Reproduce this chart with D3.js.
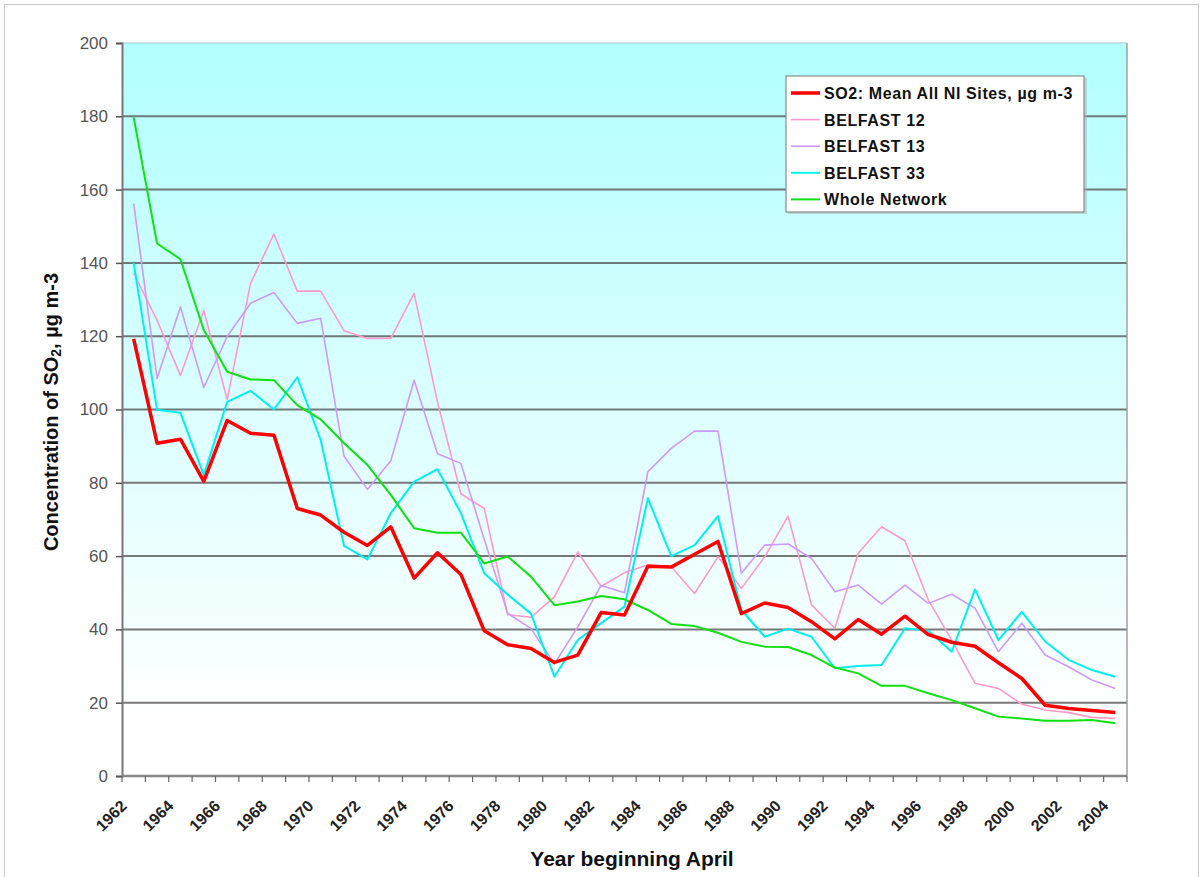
<!DOCTYPE html>
<html><head><meta charset="utf-8">
<script src="https://cdn.jsdelivr.net/npm/d3@7"></script>
<style>body{margin:0;background:#fff}svg{display:block}</style>
</head><body>
<svg id="c" width="1203" height="877"></svg>
<script>
const years = d3.range(1962, 2005);
const seriesNames = ["SO2: Mean All NI Sites, µg m-3","BELFAST 12","BELFAST 13","BELFAST 33","Whole Network"];
const meanAll = [119.3,90.8,91.9,80.4,97,93.5,93,73,71.2,66.5,62.9,68,54,60.9,55,
 39.6,35.8,34.8,31,33,44.6,43.9,57.2,57,60.5,64,44.3,47.2,46,42.1,
 37.4,42.7,38.7,43.6,38.6,36.5,35.4,30.9,26.6,19.3,18.4,17.9,17.3];
const belfast12 = [137.2,124.4,109.3,127,102.7,134.4,147.9,132.3,132.3,121.5,119.4,119.4,131.7,102,77,
 73,44,43.3,48.9,61.1,51.7,55.5,57.6,57.1,49.8,59.8,51.2,59.8,70.9,46.7,
 40.3,60.8,68,64.2,48,37.1,25.3,23.9,19.6,18,17.3,16,15.7];
const belfast13 = [156.2,108.4,128,106,119.9,129,131.9,123.5,124.9,87.3,78.2,86,108,87.9,85.3,
 64.5,44.4,40.2,30.6,40.7,52,50,83,89.4,94.1,94.1,55.3,63,63.3,59.4,
 50.3,52.1,46.9,52.1,47.1,49.6,45.8,33.9,41.7,33,29.8,26.2,23.9];
const belfast33 = [140,99.9,99.1,82.1,102.1,105.1,100,108.8,91.7,62.8,59.1,71.7,80.3,83.7,71.7,
 55.3,49.5,44.3,27.1,37.1,41.7,46.2,75.8,60,63,70.9,45.3,38,40.2,38,
 29.4,30,30.3,40.3,39.6,33.9,50.9,37.1,44.8,36.7,31.7,28.9,27.1];
const wholeNetwork = [179.7,145.3,141,121.7,110.3,108.2,108,101.2,97.3,90.8,84.9,76.7,67.6,66.4,66.4,
 58,59.9,54.4,46.6,47.6,49.1,48.2,45.3,41.5,40.9,39.1,36.6,35.3,35.2,33,
 29.6,28,24.6,24.6,22.6,20.7,18.5,16.2,15.7,15.1,15.1,15.3,14.4];
const yTicks = [0,20,40,60,80,100,120,140,160,180,200];
const xTickLabels = years.filter(y => y % 2 === 0);

const series = [
  {name: seriesNames[0], values: meanAll, color: "#ff0000", w: 3.5},
  {name: seriesNames[1], values: belfast12, color: "#ff99cc", w: 1.6},
  {name: seriesNames[2], values: belfast13, color: "#cc99ff", w: 1.6},
  {name: seriesNames[3], values: belfast33, color: "#00f0f0", w: 2},
  {name: seriesNames[4], values: wholeNetwork, color: "#11e011", w: 2}
];

const svg = d3.select("#c");
const L = 122, R = 1127, T = 43, B = 776;
const x = d3.scaleBand().domain(years).range([L, R]).padding(0);
const y = d3.scaleLinear().domain([0, 200]).range([B, T]);
const font = "'Liberation Sans', Arial, sans-serif";

// outer frame
svg.append("rect").attr("x", 4.5).attr("y", 4.5).attr("width", 1194).attr("height", 890)
  .attr("fill", "none").attr("stroke", "#c8c8c8").attr("stroke-width", 1);

const defs = svg.append("defs");
const grad = defs.append("linearGradient").attr("id", "bg").attr("x1", 0).attr("y1", 0).attr("x2", 0).attr("y2", 1);
grad.append("stop").attr("offset", "0%").attr("stop-color", "#b2ffff");
grad.append("stop").attr("offset", "92%").attr("stop-color", "#ffffff");
grad.append("stop").attr("offset", "100%").attr("stop-color", "#ffffff");

svg.append("rect").attr("x", L).attr("y", T).attr("width", R - L).attr("height", B - T).attr("fill", "url(#bg)");

// gridlines
svg.append("g").selectAll("line").data(yTicks.filter(v => v > 0 && v < 200)).join("line")
  .attr("x1", L).attr("x2", R).attr("y1", d => y(d)).attr("y2", d => y(d))
  .attr("stroke", "#606060").attr("stroke-opacity", 0.85).attr("stroke-width", 2);

// plot border right/top
svg.append("line").attr("x1", R).attr("x2", R).attr("y1", T).attr("y2", B).attr("stroke", "#a0a0a0").attr("stroke-width", 1.5);
svg.append("line").attr("x1", L).attr("x2", R).attr("y1", T).attr("y2", T).attr("stroke", "#a0c8c8").attr("stroke-width", 1);

// y axis
const yAxis = d3.axisLeft(y).tickValues(yTicks).tickSize(6).tickPadding(8);
const gy = svg.append("g").attr("transform", `translate(${L},0)`).call(yAxis);
gy.select(".domain").attr("stroke", "#777").attr("stroke-width", 2);
gy.selectAll(".tick line").attr("stroke", "#555").attr("stroke-width", 1.5);
gy.selectAll(".tick text").attr("font-family", font).attr("font-size", 17).attr("fill", "#555");

// x axis
svg.append("line").attr("x1", L).attr("x2", R).attr("y1", B).attr("y2", B).attr("stroke", "#888").attr("stroke-width", 2.5);
const bounds = years.map(v => x(v)).concat([R]);
svg.append("g").selectAll("line").data(bounds).join("line")
  .attr("x1", d => d).attr("x2", d => d).attr("y1", B).attr("y2", B + 6)
  .attr("stroke", "#666").attr("stroke-width", 1.2);
svg.append("g").selectAll("text").data(xTickLabels).join("text")
  .attr("transform", d => `translate(${x(d) + x.bandwidth() / 2 - 6},${B + 31}) rotate(-45)`)
  .attr("text-anchor", "end").attr("font-family", font).attr("font-weight", "bold")
  .attr("font-size", 16).attr("fill", "#222").text(d => d);

// lines
const line = d3.line().x((d, i) => x(years[i]) + x.bandwidth() / 2).y(d => y(d));
const order = [1, 2, 3, 4, 0];
svg.append("g").selectAll("path").data(order.map(i => series[i])).join("path")
  .attr("d", d => line(d.values)).attr("fill", "none")
  .attr("stroke", d => d.color).attr("stroke-width", d => d.w).attr("stroke-linejoin", "round");

// axis titles
svg.append("text").attr("transform", "translate(58,412) rotate(-90)").attr("text-anchor", "middle")
  .attr("font-family", font).attr("font-weight", "bold").attr("font-size", 20).attr("fill", "#111")
  .html("Concentration of SO<tspan font-size='14' dy='3'>2</tspan><tspan dy='-3'>, µg m-3</tspan>");
svg.append("text").attr("x", 632).attr("y", 866).attr("text-anchor", "middle")
  .attr("font-family", font).attr("font-weight", "bold").attr("font-size", 21).attr("fill", "#111")
  .text("Year beginning April");

// legend
const lg = svg.append("g").attr("transform", "translate(786,76)");
lg.append("rect").attr("x", 2).attr("y", 2).attr("width", 299).attr("height", 136).attr("fill", "#b0b0b0").attr("opacity", 0.5);
lg.append("rect").attr("x", 0).attr("y", 0).attr("width", 298).attr("height", 136).attr("fill", "#fff").attr("stroke", "#777").attr("stroke-width", 1);
const rows = lg.selectAll("g.row").data(series).join("g").attr("class", "row")
  .attr("transform", (d, i) => `translate(0,${17 + i * 26.6})`);
rows.append("line").attr("x1", 5).attr("x2", 34).attr("y1", 0).attr("y2", 0)
  .attr("stroke", d => d.color).attr("stroke-width", d => d.w);
rows.append("text").attr("x", 38).attr("y", 6).attr("font-family", font).attr("font-weight", "bold")
  .attr("font-size", 16).attr("letter-spacing", 0.6).attr("fill", "#111").text(d => d.name);
</script>
</body></html>
